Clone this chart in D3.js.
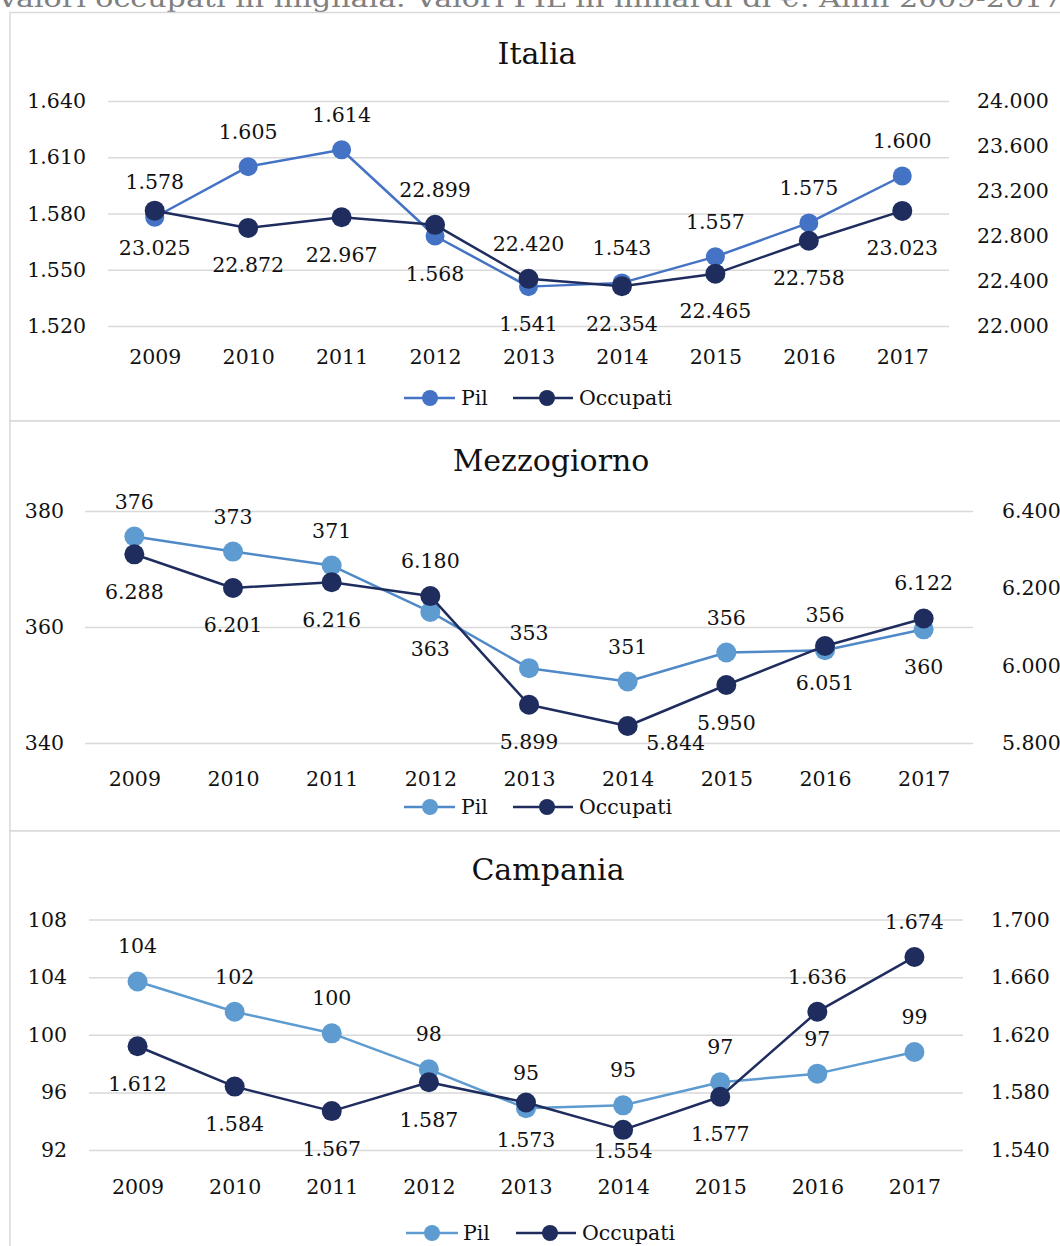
<!DOCTYPE html>
<html>
<head>
<meta charset="utf-8">
<script src="https://cdn.jsdelivr.net/npm/d3@7"></script>
<style>
  html, body { margin: 0; padding: 0; background: #ffffff; overflow: hidden; }
  svg { display: block; font-family: "DejaVu Serif", serif; }
</style>
</head>
<body>
<script>
// ---------- DATA ----------
const years = ["2009", "2010", "2011", "2012", "2013", "2014", "2015", "2016", "2017"];
const seriesNames = ["Pil", "Occupati"];
const headerText = "Valori occupati in migliaia. Valori PIL in miliardi di €. Anni 2009-2017.";
const panelTitles = ["Italia", "Mezzogiorno", "Campania"];

const italiaPil = [1578, 1605, 1614, 1568, 1541, 1543, 1557, 1575, 1600];
const italiaOccupati = [23025, 22872, 22967, 22899, 22420, 22354, 22465, 22758, 23023];
const mezzogiornoPil = [375.6, 373.0, 370.6, 362.6, 352.9, 350.6, 355.6, 356.0, 359.6];
const mezzogiornoOccupati = [6288, 6201, 6216, 6180, 5899, 5844, 5950, 6051, 6122];
const campaniaPil = [103.7, 101.6, 100.1, 97.6, 94.9, 95.1, 96.7, 97.3, 98.8];
const campaniaOccupati = [1612, 1584, 1567, 1587, 1573, 1554, 1577, 1636, 1674];

const italiaLeftTicks = [1520, 1550, 1580, 1610, 1640];
const italiaRightTicks = [22000, 22400, 22800, 23200, 23600, 24000];
const mezzogiornoLeftTicks = [340, 360, 380];
const mezzogiornoRightTicks = [5800, 6000, 6200, 6400];
const campaniaLeftTicks = [92, 96, 100, 104, 108];
const campaniaRightTicks = [1540, 1580, 1620, 1660, 1700];

// label placement: a = above, b = below
const italiaPilPos = ["a", "a", "a", "b", "b", "a", "a", "a", "a"];
const italiaOccPos = ["b", "b", "b", "a", "a", "b", "b", "b", "b"];
const mezzPilPos = ["a", "a", "a", "b", "a", "a", "a", "a", "b"];
const mezzOccPos = ["b", "b", "b", "a", "b", "br", "b", "b", "a"];
const campPilPos = ["a", "a", "a", "a", "a", "a", "a", "a", "a"];
const campOccPos = ["b", "b", "b", "b", "b", "bs", "b", "a", "a"];

// ---------- LAYOUT ----------
const W = 1060, H = 1246;
const colPil = "#4472C4";
const colPilLight = "#5E9BD0";
const colPilLightLine = "#5089C8";
const colOcc = "#1F2D5E";
const gridCol = "#d9d9d9";
const fontSize = 20.5;

const fmt = d3.formatLocale({ decimal: ",", thousands: ".", grouping: [3], currency: ["", " €"] }).format(",.0f");

const panels = [
  {
    title: panelTitles[0], top: 12.5, bottom: 421, titleX: 537, titleY: 53,
    xRange: [108, 949], yRange: [326, 101],
    leftDomain: [1520, 1640], rightDomain: [22000, 24000],
    leftTicks: italiaLeftTicks, rightTicks: italiaRightTicks,
    leftLabelX: 86, rightLabelX: 977, yearY: 357, legendY: 398,
    legend: { pilLine: [404, 455], pilMarker: 430, pilText: 461, occLine: [513, 573], occMarker: 547, occText: 579 },
    pil: italiaPil, occ: italiaOccupati, pilPos: italiaPilPos, occPos: italiaOccPos,
    pilColor: colPil, pilLineColor: colPil, pilR: 9.5
  },
  {
    title: panelTitles[1], top: 421, bottom: 831, titleX: 551, titleY: 460,
    xRange: [85, 973], yRange: [743, 511],
    leftDomain: [340, 380], rightDomain: [5800, 6400],
    leftTicks: mezzogiornoLeftTicks, rightTicks: mezzogiornoRightTicks,
    leftLabelX: 64, rightLabelX: 1002, yearY: 779, legendY: 807,
    legend: { pilLine: [404, 455], pilMarker: 430, pilText: 461, occLine: [513, 573], occMarker: 547, occText: 579 },
    pil: mezzogiornoPil, occ: mezzogiornoOccupati, pilPos: mezzPilPos, occPos: mezzOccPos,
    pilColor: colPilLight, pilLineColor: colPilLightLine, pilR: 10
  },
  {
    title: panelTitles[2], top: 831, bottom: 1270, titleX: 548, titleY: 869,
    xRange: [89, 963], yRange: [1150, 919.5],
    leftDomain: [92, 108], rightDomain: [1540, 1700],
    leftTicks: campaniaLeftTicks, rightTicks: campaniaRightTicks,
    leftLabelX: 67, rightLabelX: 991, yearY: 1187, legendY: 1233,
    legend: { pilLine: [406, 458], pilMarker: 432, pilText: 463, occLine: [516, 576], occMarker: 550, occText: 582 },
    pil: campaniaPil, occ: campaniaOccupati, pilPos: campPilPos, occPos: campOccPos,
    pilColor: colPilLight, pilLineColor: colPilLight, pilR: 10
  }
];

const svg = d3.select("body").append("svg")
  .attr("width", W).attr("height", H)
  .attr("viewBox", `0 0 ${W} ${H}`);

// header (partially cut at the top, as in the reference)
svg.append("text")
  .attr("x", -3).attr("y", 7)
  .attr("font-size", 24)
  .attr("fill", "#808080")
  .attr("textLength", 1075).attr("lengthAdjust", "spacingAndGlyphs")
  .text(headerText);

panels.forEach(p => {
  const g = svg.append("g");

  g.append("rect")
    .attr("x", 10).attr("y", p.top)
    .attr("width", 1080).attr("height", p.bottom - p.top)
    .attr("fill", "#ffffff").attr("stroke", gridCol).attr("stroke-width", 1.5);

  const x = d3.scalePoint().domain(years).range(p.xRange).padding(0.5);
  const yL = d3.scaleLinear().domain(p.leftDomain).range(p.yRange);
  const yR = d3.scaleLinear().domain(p.rightDomain).range(p.yRange);

  // title
  g.append("text")
    .attr("x", p.titleX).attr("y", p.titleY)
    .attr("text-anchor", "middle").attr("dominant-baseline", "central")
    .attr("font-size", 30).attr("fill", "#111")
    .text(p.title);

  // gridlines
  const grid = g.append("g")
    .attr("transform", `translate(${p.xRange[0]},0)`)
    .call(d3.axisLeft(yL).tickValues(p.leftTicks).tickSize(-(p.xRange[1] - p.xRange[0])).tickFormat(""));
  grid.select(".domain").remove();
  grid.selectAll("line").attr("stroke", gridCol).attr("stroke-width", 1.5);

  // left axis labels
  const axL = g.append("g")
    .attr("transform", `translate(${p.leftLabelX},0)`)
    .call(d3.axisLeft(yL).tickValues(p.leftTicks).tickSize(0).tickPadding(0).tickFormat(fmt));
  axL.select(".domain").remove();
  axL.selectAll("text").attr("font-size", fontSize).attr("font-family", "DejaVu Serif").attr("fill", "#111");

  // right axis labels
  const axR = g.append("g")
    .attr("transform", `translate(${p.rightLabelX},0)`)
    .call(d3.axisRight(yR).tickValues(p.rightTicks).tickSize(0).tickPadding(0).tickFormat(fmt));
  axR.select(".domain").remove();
  axR.selectAll("text").attr("font-size", fontSize).attr("font-family", "DejaVu Serif").attr("fill", "#111");

  // x axis labels
  const axX = g.append("g")
    .attr("transform", `translate(0,${p.yearY})`)
    .call(d3.axisBottom(x).tickSize(0).tickPadding(0));
  axX.select(".domain").remove();
  axX.selectAll("text").attr("y", 0).attr("dy", "0.35em")
    .attr("font-size", fontSize).attr("font-family", "DejaVu Serif").attr("fill", "#111");

  const series = [
    { vals: p.pil, y: yL, color: p.pilColor, line: p.pilLineColor, r: p.pilR, pos: p.pilPos },
    { vals: p.occ, y: yR, color: colOcc, line: colOcc, r: 10, pos: p.occPos }
  ];

  series.forEach(s => {
    const line = d3.line().x((d, i) => x(years[i])).y(d => s.y(d));
    g.append("path").datum(s.vals)
      .attr("d", line).attr("fill", "none")
      .attr("stroke", s.line).attr("stroke-width", 2.5).attr("stroke-linejoin", "round");
    g.selectAll(null).data(s.vals).enter().append("circle")
      .attr("cx", (d, i) => x(years[i])).attr("cy", d => s.y(d))
      .attr("r", s.r).attr("fill", s.color);
  });

  // data labels
  series.forEach(s => {
    g.selectAll(null).data(s.vals).enter().append("text")
      .attr("x", (d, i) => x(years[i]) + (s.pos[i] === "br" ? 48 : 0))
      .attr("y", (d, i) => {
        const c = s.y(d);
        const pos = s.pos[i];
        if (pos === "a") return c - 35;
        if (pos === "br") return c + 17;
        if (pos === "bs") return c + 21;
        return c + 37.5;
      })
      .attr("text-anchor", "middle").attr("dominant-baseline", "central")
      .attr("font-size", fontSize).attr("fill", "#111")
      .text(d => fmt(d));
  });

  // legend
  const L = p.legend;
  const lg = g.append("g");
  lg.append("line").attr("x1", L.pilLine[0]).attr("x2", L.pilLine[1])
    .attr("y1", p.legendY).attr("y2", p.legendY)
    .attr("stroke", p.pilLineColor).attr("stroke-width", 2.5);
  lg.append("circle").attr("cx", L.pilMarker).attr("cy", p.legendY).attr("r", 8).attr("fill", p.pilColor);
  lg.append("text").attr("x", L.pilText).attr("y", p.legendY)
    .attr("dominant-baseline", "central").attr("font-size", fontSize).attr("fill", "#111")
    .text(seriesNames[0]);
  lg.append("line").attr("x1", L.occLine[0]).attr("x2", L.occLine[1])
    .attr("y1", p.legendY).attr("y2", p.legendY)
    .attr("stroke", colOcc).attr("stroke-width", 2.5);
  lg.append("circle").attr("cx", L.occMarker).attr("cy", p.legendY).attr("r", 8).attr("fill", colOcc);
  lg.append("text").attr("x", L.occText).attr("y", p.legendY)
    .attr("dominant-baseline", "central").attr("font-size", fontSize).attr("fill", "#111")
    .text(seriesNames[1]);
});
</script>
</body>
</html>
